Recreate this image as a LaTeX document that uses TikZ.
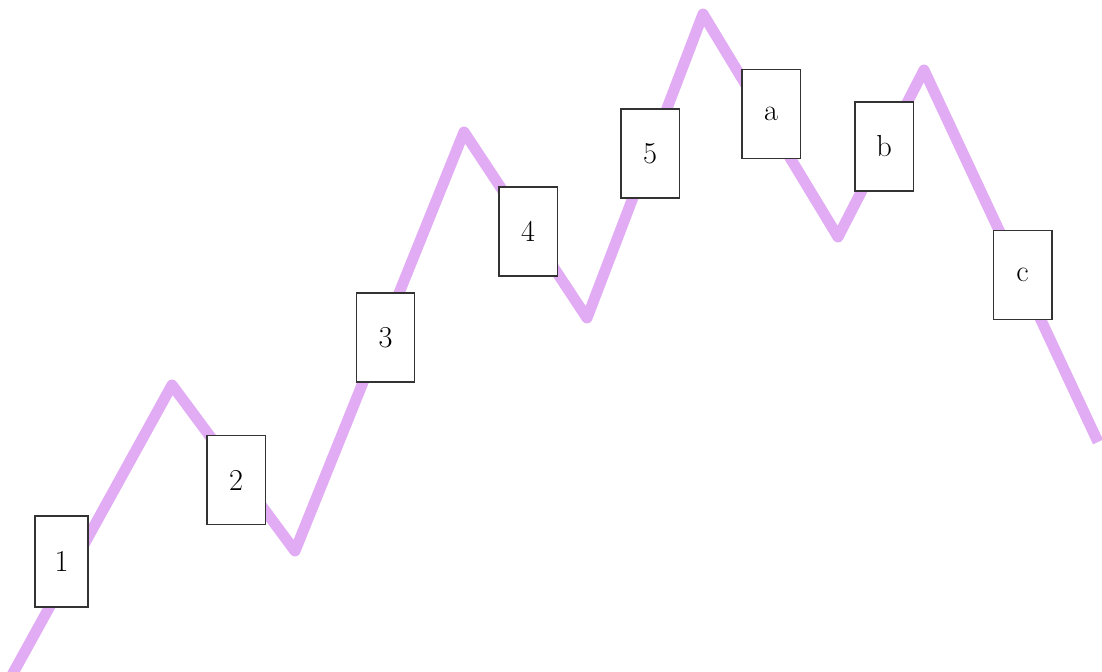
\documentclass[tikz,border=0pt]{standalone}
\usepackage{tikz}
\usetikzlibrary{positioning}
\definecolor{wavecol}{RGB}{226,172,244}
\tikzset{
  wave/.style={line width=0.22cm, color=wavecol, line join=round},
  legbox/.style={draw=black!80, line width=0.85pt, fill=white, minimum width=1.17cm, minimum height=1.78cm, inner sep=0pt, font=\LARGE}
}
\begin{document}
\begin{tikzpicture}[x=0.02cm, y=-0.02cm]
   \useasboundingbox (0,0) rectangle (1102,672);

   % zigzag
   \coordinate (s0) at (12,675);
   \coordinate (p1) at (172,385);
   \coordinate (t1) at (295,551);
   \coordinate (p2) at (464,132);
   \coordinate (t2) at (587,318);
   \coordinate (p3) at (703,14);
   \coordinate (t3) at (838,237);
   \coordinate (p4) at (924,70);
   \coordinate (e0) at (1098,442);
   \draw[wave] (s0) -- (p1) -- (t1) -- (p2) -- (t2) -- (p3) -- (t3) -- (p4) -- (e0);

   % boxes
   \node[legbox, minimum width=1.06cm, minimum height=1.82cm] (w1) at (61.5,561.5) {1};
   \node[legbox] (w2) at (236,480) {2};
   \node[legbox] (w3) at (385.5,337.5) {3};
   \node[legbox] (w4) at (528,231.5) {4};
   \node[legbox] (w5) at (650,153.5) {5};
   \node[legbox] (wa) at (771,114) {a};
   \node[legbox] (wb) at (884,146.5) {b};
   \node[legbox] (wc) at (1022.5,275) {c};
\end{tikzpicture}
\end{document}
